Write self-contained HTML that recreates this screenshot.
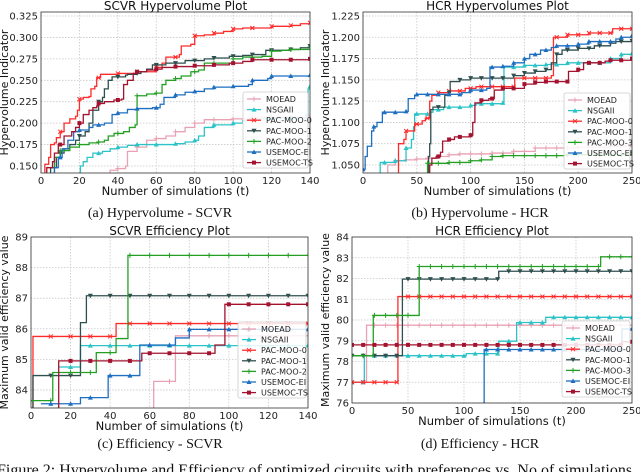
<!DOCTYPE html>
<html><head><meta charset="utf-8">
<style>
html,body{margin:0;padding:0;background:#fff;}
svg{display:block;font-family:"DejaVu Sans","Liberation Sans",sans-serif;}
.serif{font-family:"Liberation Serif",serif;}
</style></head>
<body>
<svg id="fig" width="640" height="472" viewBox="0 0 640 472" xmlns="http://www.w3.org/2000/svg"></svg>
<script>
const seriesNames = ["MOEAD","NSGAII","PAC-MOO-0","PAC-MOO-1","PAC-MOO-2","USEMOC-EI","USEMOC-TS"];
const seriesNamesHcr = ["MOEAD","NSGAII","PAC-MOO-0","PAC-MOO-1","PAC-MOO-3","USEMOC-EI","USEMOC-TS"];

// (a) SCVR hypervolume: [t, value] breakpoints
const aMoead = [[35,0.14],[36,0.145],[40,0.147],[44,0.15],[45,0.167],[50,0.172],[55,0.18],[60,0.182],[65,0.185],[70,0.19],[75,0.195],[80,0.2],[85,0.204],[100,0.205],[110,0.207],[140,0.209]];
const aNsga = [[20,0.14],[20.5,0.15],[22,0.155],[24,0.16],[27,0.165],[32,0.167],[36,0.17],[40,0.172],[45,0.174],[50,0.175],[70,0.176],[75,0.178],[80,0.18],[82,0.185],[85,0.195],[90,0.198],[100,0.2],[105,0.203],[108,0.205],[120,0.206],[138,0.21],[139,0.24],[140,0.243]];
const aPac0 = [[0,0.14],[2,0.152],[4,0.16],[5,0.175],[7,0.177],[8,0.183],[10,0.19],[12,0.2],[15,0.205],[18,0.208],[19,0.215],[20,0.228],[22,0.23],[25,0.231],[26,0.24],[28,0.243],[29,0.253],[31,0.257],[40,0.258],[50,0.26],[60,0.265],[63,0.27],[65,0.277],[72,0.28],[73,0.29],[78,0.292],[80,0.302],[85,0.303],[90,0.305],[95,0.307],[100,0.31],[105,0.311],[120,0.313],[130,0.314],[135,0.316],[140,0.317]];
const aPac1 = [[0,0.14],[5,0.148],[8,0.16],[10,0.165],[12,0.17],[15,0.175],[18,0.18],[20,0.185],[23,0.19],[25,0.2],[27,0.215],[30,0.225],[32,0.23],[33,0.24],[35,0.25],[37,0.254],[44,0.256],[45,0.257],[50,0.258],[52,0.26],[55,0.263],[58,0.268],[65,0.27],[75,0.273],[85,0.275],[90,0.276],[98,0.278],[105,0.279],[110,0.28],[117,0.285],[130,0.286],[135,0.288],[140,0.29]];
const aPac2 = [[0,0.14],[7,0.16],[10,0.168],[15,0.172],[20,0.175],[25,0.177],[30,0.178],[33,0.18],[35,0.185],[38,0.188],[43,0.19],[46,0.195],[49,0.198],[50,0.232],[55,0.234],[60,0.235],[63,0.245],[65,0.25],[70,0.252],[73,0.255],[78,0.26],[82,0.262],[85,0.27],[100,0.275],[105,0.277],[115,0.278],[120,0.284],[125,0.285],[130,0.286],[140,0.289]];
const aEi = [[0,0.14],[7,0.148],[9,0.16],[11,0.17],[14,0.18],[17,0.19],[20,0.192],[25,0.195],[27,0.198],[33,0.2],[37,0.21],[40,0.212],[45,0.216],[50,0.217],[58,0.218],[62,0.222],[64,0.23],[70,0.233],[75,0.236],[80,0.237],[85,0.24],[90,0.242],[100,0.243],[108,0.245],[110,0.25],[118,0.252],[120,0.255],[140,0.256]];
const aTs = [[0,0.14],[3,0.148],[6,0.155],[7,0.165],[9,0.175],[12,0.185],[16,0.19],[18,0.195],[20,0.2],[22,0.21],[25,0.215],[27,0.218],[29,0.22],[30,0.223],[33,0.225],[38,0.227],[42,0.228],[43,0.245],[45,0.25],[48,0.258],[50,0.26],[55,0.262],[60,0.263],[63,0.265],[70,0.266],[80,0.267],[90,0.268],[98,0.27],[105,0.272],[110,0.274],[140,0.275]];

// (b) HCR hypervolume
const bMoead = [[22,1.04],[23,1.05],[30,1.055],[40,1.056],[50,1.057],[60,1.058],[70,1.06],[80,1.062],[90,1.063],[120,1.064],[140,1.066],[160,1.07],[200,1.071],[230,1.072],[250,1.072]];
const bNsga = [[15,1.04],[16,1.053],[25,1.053],[30,1.055],[40,1.07],[45,1.08],[47,1.095],[48,1.11],[55,1.11],[62,1.112],[65,1.115],[75,1.118],[100,1.12],[105,1.122],[130,1.123],[131,1.165],[150,1.167],[170,1.168],[190,1.17],[230,1.175],[240,1.18],[250,1.181]];
const bPac0 = [[32,1.04],[33,1.075],[38,1.08],[40,1.09],[45,1.09],[48,1.098],[55,1.102],[58,1.105],[62,1.125],[64,1.132],[70,1.135],[80,1.137],[95,1.14],[105,1.142],[140,1.142],[141,1.152],[160,1.152],[175,1.155],[177,1.2],[190,1.203],[210,1.205],[230,1.205],[232,1.21],[250,1.21]];
const bPac1 = [[60,1.04],[61,1.06],[62,1.075],[63,1.115],[65,1.118],[75,1.118],[76,1.132],[80,1.135],[81,1.148],[90,1.15],[100,1.152],[135,1.152],[140,1.155],[150,1.158],[160,1.16],[170,1.162],[175,1.17],[180,1.18],[185,1.185],[200,1.187],[215,1.19],[230,1.193],[235,1.195],[250,1.196]];
const bPac3 = [[58,1.04],[60,1.052],[80,1.053],[100,1.055],[110,1.056],[120,1.06],[130,1.061],[190,1.062],[250,1.065]];
const bEi = [[0,1.045],[2,1.06],[4,1.072],[8,1.09],[10,1.095],[13,1.1],[18,1.112],[40,1.113],[42,1.128],[48,1.132],[50,1.133],[85,1.133],[92,1.135],[100,1.138],[115,1.14],[118,1.165],[130,1.166],[140,1.17],[150,1.175],[155,1.18],[165,1.185],[175,1.188],[180,1.19],[200,1.192],[210,1.195],[235,1.198],[240,1.2],[250,1.202]];
const bTs = [[60,1.04],[62,1.05],[64,1.058],[68,1.06],[72,1.065],[74,1.078],[80,1.08],[85,1.083],[100,1.085],[102,1.1],[104,1.123],[110,1.126],[117,1.128],[122,1.138],[130,1.14],[140,1.14],[150,1.145],[160,1.147],[170,1.148],[190,1.148],[191,1.16],[200,1.162],[205,1.17],[225,1.172],[230,1.173],[250,1.175]];

// (c) SCVR efficiency
const cMoead = [[61,83.4],[62,84.28],[72,84.28],[73,85.77],[140,85.77]];
const cNsga = [[14,84.75],[25,85.45],[140,85.45]];
const cPac0 = [[0,83.4],[1,85.75],[42,85.75],[43,86.17],[140,86.17]];
const cPac1 = [[0,83.4],[1,84.47],[24,84.47],[25,86.2],[27,86.2],[28,87.08],[140,87.08]];
const cPac2 = [[0,83.65],[10,83.65],[11,84.57],[32,84.57],[33,85.22],[42,85.22],[43,85.68],[48,85.68],[49,88.4],[140,88.4]];
const cEi = [[5,83.55],[24,83.55],[25,83.75],[38,83.75],[39,84.47],[54,84.47],[55,85.47],[72,85.47],[73,85.7],[79,85.7],[80,85.98],[140,85.98]];
const cTs = [[13,83.4],[14,84.95],[55,84.95],[56,85.2],[90,85.2],[93,85.47],[97,85.47],[98,86.8],[140,86.8]];

// (d) HCR efficiency
const dMoead = [[0,77],[12,77],[13,79.75],[250,79.75]];
const dNsga = [[0,77],[10,77],[11,78.28],[100,78.28],[102,78.38],[130,78.38],[131,78.98],[145,78.98],[147,79.88],[170,79.88],[173,80.13],[250,80.13]];
const dPac0 = [[0,77],[40,77],[41,81.13],[250,81.13]];
const dPac1 = [[0,78.28],[44,78.28],[45,81.97],[130,81.97],[131,82.35],[250,82.35]];
const dPac3 = [[0,78.28],[18,78.28],[19,80.22],[59,80.22],[60,82.58],[220,82.58],[222,83.05],[250,83.05]];
const dEi = [[117,76],[118,78.58],[240,78.58],[241,79.57],[250,79.57]];
const dTs = [[0,78.8],[240,78.8],[241,78.95],[250,78.95]];

const aYTicks = [0.150,0.175,0.200,0.225,0.250,0.275,0.300,0.325];
const bYTicks = [1.050,1.075,1.100,1.125,1.150,1.175,1.200,1.225];
const cYTicks = [84,85,86,87,88,89];
const dYTicks = [76,77,78,79,80,81,82,83,84];
const aXTicks = [0,20,40,60,80,100,120,140];
const bXTicks = [0,50,100,150,200,250];

const colors = ["#e8a2b4","#2cc3c8","#ff2a2a","#2f4f4f","#23a023","#1f6fc0","#a3122e"];
const markers = ["plus","tri","x","vtri","plus","tri","sq"];

const NS = "http://www.w3.org/2000/svg";
const svg = document.getElementById("fig");
function el(tag, attrs, parent){const e=document.createElementNS(NS,tag);for(const k in attrs)e.setAttribute(k,attrs[k]);(parent||svg).appendChild(e);return e;}
function txt(s, attrs, parent){const e=el("text",attrs,parent);e.textContent=s;return e;}

function marker(g,type,x,y,c){
  let m;
  if(type==="plus") m=el("path",{d:`M${x-2.5},${y}H${x+2.5}M${x},${y-2.5}V${y+2.5}`,stroke:c,"stroke-width":1},g);
  else if(type==="x") m=el("path",{d:`M${x-2},${y-2}L${x+2},${y+2}M${x-2},${y+2}L${x+2},${y-2}`,stroke:c,"stroke-width":1},g);
  else if(type==="tri") m=el("path",{d:`M${x},${y-2.5}L${x+2.5},${y+2}L${x-2.5},${y+2}Z`,fill:c},g);
  else if(type==="vtri") m=el("path",{d:`M${x},${y+2.5}L${x+2.5},${y-2}L${x-2.5},${y-2}Z`,fill:c},g);
  else m=el("rect",{x:x-2,y:y-2,width:4,height:4,fill:c},g);
  
  
}

function valAt(data,t){let v=null;for(const p of data){if(p[0]<=t)v=p[1];else break;}return v;}

function chart(cfg){
  const g=el("g",{});
  
  
  const {L,R,T,B,xmin,xmax,ymin,ymax}=cfg;
  const sx=v=>L+(v-xmin)/(xmax-xmin)*(R-L);
  const sy=v=>B-(v-ymin)/(ymax-ymin)*(B-T);
  const clipId="clip"+cfg.id;
  const cp=el("clipPath",{id:clipId},g);el("rect",{x:L,y:T,width:R-L,height:B-T},cp);
  for(const t of cfg.xticks){const x=sx(t);el("line",{x1:x,x2:x,y1:T,y2:B,stroke:"#c8c8c8","stroke-dasharray":"1.5,1.5","stroke-width":0.8},g);
    const lb=txt(String(t),{x:x,y:B+11,"font-size":10,"text-anchor":"middle",fill:"#222"},g);
    
    }
  for(const t of cfg.yticks){const y=sy(t);el("line",{x1:L,x2:R,y1:y,y2:y,stroke:"#c8c8c8","stroke-dasharray":"1.5,1.5","stroke-width":0.8},g);
    const lb=txt(cfg.yfmt(t),{x:L-3,y:y+3.5,"font-size":10,"text-anchor":"end",fill:"#222"},g);
    
    }
  const sg=el("g",{"clip-path":`url(#${clipId})`},g);
  cfg.series.forEach((data,i)=>{
    let d="";
    data.forEach((p,j)=>{const x=sx(p[0]),y=sy(p[1]);if(j===0)d+=`M${x},${y}`;else d+=`H${x}V${y}`;});
    const pth=el("path",{d:d,fill:"none",stroke:colors[i],"stroke-width":1.3},sg);
    
    
    for(let t=Math.ceil(data[0][0]/10)*10;t<=xmax;t+=10){const v=valAt(data,t);if(v!==null&&v>=ymin)marker(sg,markers[i],sx(t),sy(v),colors[i]);}
  });
  el("rect",{x:L,y:T,width:R-L,height:B-T,fill:"none",stroke:"#333","stroke-width":0.8},g);
  const ti=txt(cfg.title,{x:(L+R)/2,y:T-2,"font-size":12,"text-anchor":"middle",fill:"#111"},g);
  
  
  const xt=txt("Number of simulations (t)",{x:(L+R)/2,y:B+22,"font-size":11.5,"text-anchor":"middle",fill:"#111"},g);
  
  
  const yt=txt(cfg.ylabel,{x:0,y:0,"font-size":11,"text-anchor":"middle",fill:"#111",transform:`translate(${cfg.ylx},${(T+B)/2}) rotate(-90)`},g);
  
  
  const cap=txt(cfg.caption,{x:cfg.capx,y:cfg.capy,"font-size":14,"text-anchor":"middle",fill:"#111",class:"serif"},g);
  
  
  const lg=el("g",{},g);
  
  
  const lx=cfg.legX, ly=cfg.legY;
  el("rect",{x:lx,y:ly,width:R-lx-2,height:76,fill:"#fff","fill-opacity":0.85,stroke:"#ccc","stroke-width":0.8,rx:2},lg);
  cfg.names.forEach((n,i)=>{
    const y=ly+7+i*10.6;
    el("line",{x1:lx+4,x2:lx+18,y1:y,y2:y,stroke:colors[i],"stroke-width":1.3},lg);
    marker(lg,markers[i],lx+11,y,colors[i]);
    const lt=txt(n,{x:lx+23,y:y+3,"font-size":8,fill:"#222"},lg);
    
    
  });
}

chart({id:"a",name:"scvr-hypervolume-chart",L:41,R:310,T:12,B:173,xmin:0,xmax:140,ymin:0.1418,ymax:0.3297,xticks:aXTicks,yticks:aYTicks,yfmt:v=>v.toFixed(3),
  series:[aMoead,aNsga,aPac0,aPac1,aPac2,aEi,aTs],names:seriesNames,title:"SCVR Hypervolume Plot",ylabel:"Hypervolume Indicator",ylx:8,caption:"(a) Hypervolume - SCVR",capx:160,capy:217,legX:243,legY:92});
chart({id:"b",name:"hcr-hypervolume-chart",L:363,R:632,T:12,B:173,xmin:0,xmax:250,ymin:1.0406,ymax:1.2297,xticks:bXTicks,yticks:bYTicks,yfmt:v=>v.toFixed(3),
  series:[bMoead,bNsga,bPac0,bPac1,bPac3,bEi,bTs],names:seriesNamesHcr,title:"HCR Hypervolumes Plot",ylabel:"Hypervolume Indicator",ylx:329,caption:"(b) Hypervolume - HCR",capx:480,capy:217,legX:564,legY:93});
chart({id:"c",name:"scvr-efficiency-chart",L:31,R:308,T:237,B:408,xmin:0,xmax:140,ymin:83.41,ymax:89,xticks:aXTicks,yticks:cYTicks,yfmt:v=>String(v),
  series:[cMoead,cNsga,cPac0,cPac1,cPac2,cEi,cTs],names:seriesNames,title:"SCVR Efficiency Plot",ylabel:"Maximum valid efficiency value",ylx:8,caption:"(c) Efficiency - SCVR",capx:160,capy:448,legX:238,legY:322});
chart({id:"d",name:"hcr-efficiency-chart",L:352,R:632,T:237,B:403,xmin:0,xmax:250,ymin:76,ymax:84,xticks:bXTicks,yticks:dYTicks,yfmt:v=>String(v),
  series:[dMoead,dNsga,dPac0,dPac1,dPac3,dEi,dTs],names:seriesNamesHcr,title:"HCR Efficiency Plot",ylabel:"Maximum valid efficiency value",ylx:329,caption:"(d) Efficiency - HCR",capx:480,capy:448,legX:562,legY:321});

const fc=txt("Figure 2: Hypervolume and Efficiency of optimized circuits with preferences vs. No of simulations",{x:-3,y:475,"font-size":16,fill:"#111",class:"serif"});


</script>
</body></html>
